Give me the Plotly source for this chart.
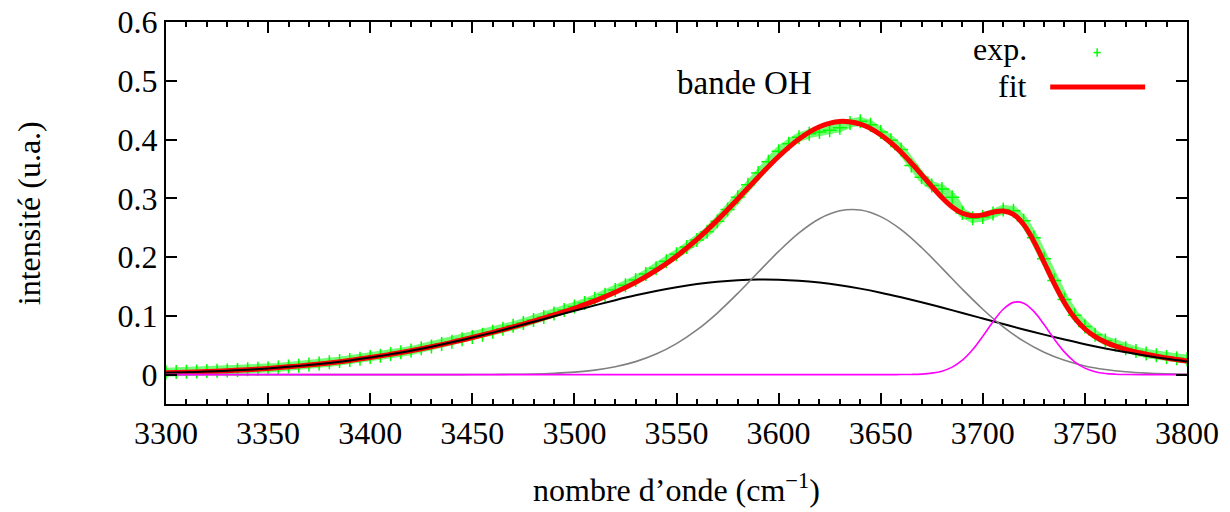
import plotly.graph_objects as go

# ---- data ----
x10 = list(range(3300, 3801, 10))

# broad component (black)
comp_broad = [0.0031, 0.0040, 0.0052, 0.0066, 0.0084, 0.0106, 0.0132, 0.0163, 0.0199, 0.0241,
              0.0290, 0.0345, 0.0406, 0.0474, 0.0549, 0.0630, 0.0715, 0.0805, 0.0898, 0.0992,
              0.1086, 0.1178, 0.1266, 0.1349, 0.1423, 0.1487, 0.1540, 0.1581, 0.1607, 0.1619,
              0.1616, 0.1598, 0.1566, 0.1521, 0.1463, 0.1394, 0.1316, 0.1232, 0.1142, 0.1049,
              0.0954, 0.0860, 0.0769, 0.0680, 0.0597, 0.0518, 0.0446, 0.0381, 0.0322, 0.0269,
              0.0224]

# main component (grey)
comp_main = [0.0, 0.0, 0.0, 0.0, 0.0, 0.0, 0.0, 0.0, 0.0, 0.0,
             0.0, 0.0, 0.0, 0.0, 0.0, 0.0001, 0.0003, 0.0006, 0.0011, 0.0023,
             0.0043, 0.0077, 0.0134, 0.0221, 0.0349, 0.0527, 0.0760, 0.1048, 0.1382, 0.1741,
             0.2096, 0.2411, 0.2652, 0.2787, 0.2800, 0.2688, 0.2467, 0.2163, 0.1813, 0.1452,
             0.1112, 0.0813, 0.0569, 0.0380, 0.0243, 0.0148, 0.0087, 0.0048, 0.0026, 0.0013,
             0.0006]

# narrow component (magenta)
x_narrow = [3300, 3640, 3650, 3655, 3660, 3665, 3670, 3675, 3680, 3685, 3690, 3695, 3700,
            3705, 3710, 3715, 3720, 3725, 3730, 3735, 3740, 3745, 3750, 3755, 3760, 3765,
            3770, 3780, 3800]
comp_narrow = [0.0, 0.0, 0.0, 0.0, 0.0001, 0.0003, 0.0009, 0.0025, 0.0059, 0.0127, 0.0245,
               0.0423, 0.0652, 0.0900, 0.1112, 0.1229, 0.1215, 0.1076, 0.0852, 0.0604, 0.0383,
               0.0217, 0.0110, 0.0050, 0.0020, 0.0007, 0.0002, 0.0, 0.0]

# fit (red)
x_fit = list(range(3300, 3641, 10)) + list(range(3645, 3781, 5)) + [3790, 3800]
fit = [0.0031, 0.0040, 0.0052, 0.0066, 0.0084, 0.0106, 0.0132, 0.0163, 0.0199, 0.0241,
       0.0290, 0.0345, 0.0406, 0.0474, 0.0549, 0.0631, 0.0718, 0.0811, 0.0909, 0.1015,
       0.1129, 0.1255, 0.1400, 0.1570, 0.1772, 0.2014, 0.2300, 0.2629, 0.2989, 0.3360,
       0.3712, 0.4009, 0.4218, 0.4308, 0.4263,
       0.4189, 0.4082, 0.3945, 0.3784, 0.3601, 0.3404, 0.3203, 0.3014, 0.2854, 0.2746,
       0.2702, 0.2718, 0.2764, 0.2785, 0.2727, 0.2553, 0.2268, 0.1912, 0.1548, 0.1223,
       0.0965, 0.0776, 0.0646, 0.0553, 0.0485, 0.0431, 0.0385, 0.0348,
       0.0282, 0.0230]

# experimental points (green)
x_exp = list(range(3300, 3801, 5))
exp_vals = [0.004, 0.0045, 0.005, 0.0055, 0.006, 0.0065, 0.007, 0.008, 0.009, 0.010,
            0.011, 0.012, 0.014, 0.015, 0.017, 0.019, 0.021, 0.023, 0.025, 0.027,
            0.030, 0.032, 0.035, 0.038, 0.041, 0.045, 0.048, 0.052, 0.056, 0.060,
            0.064, 0.068, 0.073, 0.078, 0.083, 0.088, 0.093, 0.098, 0.104, 0.110,
            0.116, 0.122, 0.129, 0.136, 0.144, 0.152, 0.161, 0.171, 0.181, 0.193,
            0.205, 0.217, 0.229, 0.243, 0.261, 0.281, 0.302, 0.323, 0.343, 0.362,
            0.380, 0.393, 0.404, 0.410, 0.413, 0.416, 0.420, 0.428, 0.431, 0.425,
            0.413, 0.399, 0.383, 0.356, 0.336, 0.322, 0.316, 0.302, 0.275, 0.266,
            0.268, 0.274, 0.281, 0.279, 0.262, 0.233, 0.197, 0.160, 0.128, 0.101,
            0.082, 0.068, 0.058, 0.051, 0.045, 0.040, 0.036, 0.033, 0.030, 0.028,
            0.026]

x_ticks = [3300, 3350, 3400, 3450, 3500, 3550, 3600, 3650, 3700, 3750, 3800]
y_ticks = [0, 0.1, 0.2, 0.3, 0.4, 0.5, 0.6]
y_tick_labels = ["0", "0.1", "0.2", "0.3", "0.4", "0.5", "0.6"]

FONT = "'Liberation Serif', 'DejaVu Serif', serif"
FS = 32

fig = go.Figure()
fig.add_trace(go.Scatter(x=x_exp, y=exp_vals, mode="lines+markers",
                         line=dict(color="rgba(0,255,0,0.55)", width=9),
                         marker=dict(symbol="cross-thin", size=10, color="#00ff00",
                                     line=dict(color="#00ff00", width=1.5)),
                         showlegend=False))
fig.add_trace(go.Scatter(x=x_fit, y=fit, mode="lines", line_shape="spline",
                         line=dict(color="#ff0000", width=5), showlegend=False))
fig.add_trace(go.Scatter(x=x10, y=comp_broad, mode="lines", line_shape="spline",
                         line=dict(color="#000000", width=2), showlegend=False))
fig.add_trace(go.Scatter(x=x10, y=comp_main, mode="lines", line_shape="spline",
                         line=dict(color="#808080", width=1.6), showlegend=False))
fig.add_trace(go.Scatter(x=x_narrow, y=comp_narrow, mode="lines", line_shape="spline",
                         line=dict(color="#ff00ff", width=1.6), showlegend=False))

axis_common = dict(showline=True, linecolor="black", linewidth=2, mirror="ticks",
                   ticks="inside", tickcolor="black", tickwidth=2, ticklen=11,
                   showgrid=False, zeroline=False, automargin=False,
                   tickfont=dict(family=FONT, size=FS, color="black"))

fig.update_xaxes(range=[3300, 3800], tickvals=x_ticks,
                 minor=dict(dtick=10, ticks="inside", ticklen=5, tickwidth=2,
                            tickcolor="black", showgrid=False),
                 **axis_common)
fig.update_yaxes(range=[-0.05, 0.6], tickvals=y_ticks, ticktext=y_tick_labels,
                 **axis_common)

# axis titles
fig.add_annotation(xref="paper", yref="paper", x=0.5, y=-0.22,
                   text="nombre d’onde (cm<sup>−1</sup>)", showarrow=False,
                   font=dict(family=FONT, size=FS, color="black"),
                   xanchor="center", yanchor="middle")
fig.add_annotation(xref="paper", yref="paper", x=-0.134, y=0.5,
                   text="intensité (u.a.)", showarrow=False, textangle=-90,
                   font=dict(family=FONT, size=FS, color="black"),
                   xanchor="center", yanchor="middle")

# annotation and hand-made key
fig.add_annotation(xref="paper", yref="paper", x=0.567, y=0.84, text="bande OH",
                   showarrow=False, font=dict(family=FONT, size=33, color="black"),
                   xanchor="center", yanchor="middle")
fig.add_annotation(xref="paper", yref="paper", x=0.845, y=0.93, text="exp.",
                   showarrow=False, font=dict(family=FONT, size=FS, color="black"),
                   xanchor="right", yanchor="middle")
fig.add_annotation(xref="paper", yref="paper", x=0.845, y=0.832, text="fit",
                   showarrow=False, font=dict(family=FONT, size=FS, color="black"),
                   xanchor="right", yanchor="middle")
fig.add_shape(type="line", xref="paper", yref="paper", x0=0.866, x1=0.959, y0=0.830, y1=0.830,
              line=dict(color="#ff0000", width=5))
fig.add_shape(type="line", xref="paper", yref="paper", x0=0.9085, x1=0.9155, y0=0.920, y1=0.920,
              line=dict(color="#00ff00", width=1.5))
fig.add_shape(type="line", xref="paper", yref="paper", x0=0.912, x1=0.912, y0=0.909, y1=0.931,
              line=dict(color="#00ff00", width=1.5))

fig.update_layout(width=1230, height=512, margin=dict(l=166, r=43, t=22, b=108),
                  paper_bgcolor="white", plot_bgcolor="white",
                  font=dict(family=FONT, size=FS, color="black"))

fig.write_html("out.html")
